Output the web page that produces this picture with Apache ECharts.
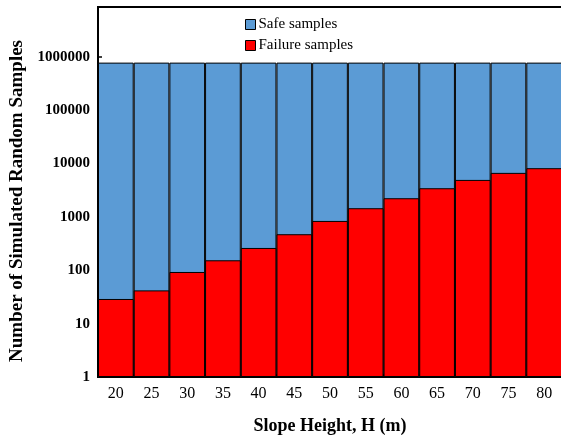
<!DOCTYPE html>
<html>
<head>
<meta charset="utf-8">
<script src="https://cdn.jsdelivr.net/npm/echarts@6/dist/echarts.min.js"></script>
<style>html,body{margin:0;padding:0;background:#fff}#c{width:561px;height:436px}</style>
</head>
<body>
<div id="c"></div>
<script>
const categories = ['20','25','30','35','40','45','50','55','60','65','70','75','80'];
const failureSamples = [29, 42, 93, 154, 262, 474, 841, 1456, 2240, 3450, 4940, 6690, 8190];
const safeSamples = [779971, 779958, 779907, 779846, 779738, 779526, 779159, 778544, 777760, 776550, 775060, 773310, 771810];
const yTicks = [1, 10, 100, 1000, 10000, 100000, 1000000];

const totalHeights = safeSamples.map((v, i) => v + failureSamples[i]);
const serif = '"Liberation Serif", "Times New Roman", serif';

const chart = echarts.init(document.getElementById('c'), null, {renderer: 'canvas'});
chart.setOption({
  animation: false,
  backgroundColor: '#fff',
  grid: {left: 98, right: -1, top: 7, bottom: 59, outerBoundsMode: 'none', containLabel: false,
         show: true, borderColor: '#000', borderWidth: 2, backgroundColor: 'transparent'},
  legend: {
    orient: 'vertical', left: 240, top: 12, itemWidth: 10, itemHeight: 10, itemGap: 6, icon: 'rect',
    textStyle: {fontFamily: serif, fontSize: 15, color: '#000', padding: [0, 0, 0, -2]},
    data: [
      {name: 'Safe samples', itemStyle: {borderColor: '#000', borderWidth: 1}},
      {name: 'Failure samples', itemStyle: {borderColor: '#000', borderWidth: 1}}
    ]
  },
  xAxis: {
    type: 'category', data: categories,
    name: 'Slope Height, H (m)', nameLocation: 'middle', nameGap: 40,
    nameTextStyle: {fontFamily: serif, fontSize: 18, fontWeight: 'bold', color: '#000'},
    axisLine: {lineStyle: {color: '#000', width: 2}},
    axisTick: {show: true, inside: true, length: 3, lineStyle: {color: '#000'}},
    axisLabel: {fontFamily: serif, fontSize: 16, color: '#000', margin: 9}
  },
  yAxis: {
    type: 'log', logBase: 10, min: 1, max: 8600000,
    name: 'Number of Simulated Random Samples', nameLocation: 'middle', nameGap: 66,
    nameTextStyle: {fontFamily: serif, fontSize: 19, fontWeight: 'bold', color: '#000', padding: [0, 18, 0, 0]},
    axisLine: {show: true, lineStyle: {color: '#000', width: 2}},
    axisTick: {show: true, inside: true, length: 4, lineStyle: {color: '#000', width: 1.5}},
    splitLine: {show: false},
    axisLabel: {
      fontFamily: serif, fontSize: 15, fontWeight: 'bold', color: '#000', margin: 8,
      showMaxLabel: false,
      formatter: v => yTicks.indexOf(Math.round(v)) >= 0 ? String(Math.round(v)) : ''
    }
  },
  series: [
    {
      name: 'Safe samples', type: 'bar', data: totalHeights,
      barCategoryGap: 0, barGap: '-100%',
      itemStyle: {color: '#5B9BD5', borderColor: '#000', borderWidth: 1}
    },
    {
      name: 'Failure samples', type: 'bar', data: failureSamples,
      barCategoryGap: 0, barGap: '-100%',
      itemStyle: {color: '#FF0000', borderColor: '#000', borderWidth: 1}
    }
  ]
});
</script>
</body>
</html>
